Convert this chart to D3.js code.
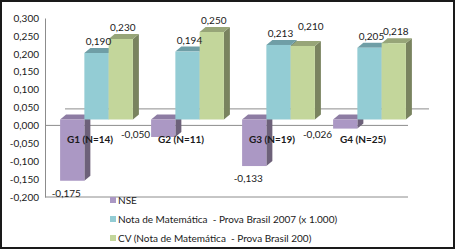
<!DOCTYPE html>
<html>
<head>
<meta charset="utf-8">
<script src="https://cdn.jsdelivr.net/npm/d3@7"></script>
<style>
  body { margin: 0; background: #fff; }
  text { font-family: Lato, "Open Sans", sans-serif; fill: #1a1a1a; }
</style>
</head>
<body>
<div id="chart"></div>
<script>
var groups = ["G1 (N=14)", "G2 (N=11)", "G3 (N=19)", "G4 (N=25)"];
var seriesNames = ["NSE",
    "Nota de Matemática  - Prova Brasil 2007 (x 1.000)",
    "CV (Nota de Matemática  - Prova Brasil 200)"];
var nse = [-0.175, -0.050, -0.133, -0.026];
var nota = [0.190, 0.194, 0.213, 0.205];
var cv = [0.230, 0.250, 0.210, 0.218];
var yTicks = [-0.2, -0.15, -0.1, -0.05, 0, 0.05, 0.1, 0.15, 0.2, 0.25, 0.3];

var series = [nse, nota, cv];
// front / top / side shades for the 3d columns
var faces = [
    ["#ab98c4", "#8d7ca3", "#6d6179"],
    ["#93ccd4", "#6f9ea6", "#5b858b"],
    ["#c3d69b", "#97a578", "#79835f"]
];

var W = 455, H = 249;
var depth = { dx: 6, dy: -5 };

var fmt = d3.formatLocale({ decimal: ",", thousands: ".", grouping: [3], currency: ["", ""], minus: "-" }).format(".3f");

var svg = d3.select("#chart").append("svg")
    .attr("width", W)
    .attr("height", H);

svg.append("rect")
    .attr("x", 1).attr("y", 1)
    .attr("width", W - 2).attr("height", H - 2)
    .attr("fill", "#fff")
    .attr("stroke", "#1a1a1a")
    .attr("stroke-width", 2);

// axis plane scale and the bar plane (columns sit a bit behind the axis)
var yScale = d3.scaleLinear().domain([-0.2, 0.3]).range([197, 18]);
var yBar = d3.scaleLinear().domain([-0.2, 0.3]).range([189.5, 14.5]);

var xScale = d3.scaleBand().domain(groups).range([51, 415])
    .paddingInner(0.2).paddingOuter(0.1);
var xSub = d3.scaleBand().domain(d3.range(series.length)).range([0, xScale.bandwidth()]);

var lineColor = "#8c8c8c";

// back edge of the zero plane
svg.append("line")
    .attr("x1", 65).attr("x2", 429)
    .attr("y1", yScale(0) - 16.5).attr("y2", yScale(0) - 16.5)
    .attr("stroke", lineColor).attr("stroke-width", 1);

// front zero line and floor
svg.append("line")
    .attr("x1", 45).attr("x2", 408)
    .attr("y1", yScale(0)).attr("y2", yScale(0))
    .attr("stroke", lineColor).attr("stroke-width", 1);
svg.append("line")
    .attr("x1", 45).attr("x2", 408)
    .attr("y1", yScale(-0.2)).attr("y2", yScale(-0.2))
    .attr("stroke", lineColor).attr("stroke-width", 1);

var yAxis = d3.axisLeft(yScale).tickValues(yTicks).tickSize(0).tickPadding(6).tickFormat(fmt);
var gy = svg.append("g")
    .attr("transform", "translate(45,0)")
    .call(yAxis);
gy.select(".domain").attr("stroke", lineColor);
gy.selectAll("text").style("font-size", "10px").attr("fill", "#1a1a1a");

// columns
groups.forEach(function (g, gi) {
    series.forEach(function (vals, si) {
        var v = vals[gi];
        var x0 = xScale(g) + xSub(si);
        var w = xSub.bandwidth();
        var yTop = yBar(Math.max(v, 0));
        var yBot = yBar(Math.min(v, 0));
        var c = faces[si];
        var bar = svg.append("g").attr("class", "bar");
        // side
        bar.append("path")
            .attr("d", "M" + (x0 + w) + "," + yTop +
                "L" + (x0 + w + depth.dx) + "," + (yTop + depth.dy) +
                "L" + (x0 + w + depth.dx) + "," + (yBot + depth.dy) +
                "L" + (x0 + w) + "," + yBot + "Z")
            .attr("fill", c[2]);
        // top
        bar.append("path")
            .attr("d", "M" + x0 + "," + yTop +
                "L" + (x0 + depth.dx) + "," + (yTop + depth.dy) +
                "L" + (x0 + w + depth.dx) + "," + (yTop + depth.dy) +
                "L" + (x0 + w) + "," + yTop + "Z")
            .attr("fill", c[1]);
        // front
        bar.append("rect")
            .attr("x", x0).attr("y", yTop)
            .attr("width", w).attr("height", yBot - yTop)
            .attr("fill", c[0]);
    });
});

// value labels
groups.forEach(function (g, gi) {
    var prevY = null;
    series.forEach(function (vals, si) {
        var v = vals[gi];
        var x0 = xScale(g) + xSub(si);
        var w = xSub.bandwidth();
        var cx = x0 + w / 2 + 2, ly, anchor = "middle";
        if (v >= 0) {
            ly = yBar(v) - 8;
            if (prevY !== null && Math.abs(ly - prevY) < 3) {
                ly = prevY - 6.5;
                cx += 6;
            }
            prevY = ly;
        } else if (v > -0.1) {
            cx = x0 - 1;
            anchor = "end";
            ly = yScale(0) + 13;
        } else {
            cx = x0 + w / 2 - 6;
            ly = yBar(v) + 16;
        }
        svg.append("text")
            .attr("x", cx).attr("y", ly)
            .attr("text-anchor", anchor)
            .style("font-size", "10px")
            .text(fmt(v));
    });
});

// category labels
svg.selectAll(".cat")
    .data(groups)
    .enter().append("text")
    .attr("class", "cat")
    .attr("x", function (d) { return xScale(d) + xScale.bandwidth() / 2 - 6.5; })
    .attr("y", yScale(0) + 17.5)
    .attr("text-anchor", "middle")
    .style("font-size", "10px")
    .style("font-weight", "bold")
    .text(function (d) { return d; });

// legend
var legend = svg.selectAll(".legend")
    .data(seriesNames)
    .enter().append("g")
    .attr("class", "legend")
    .attr("transform", function (d, i) { return "translate(110," + (199.5 + i * 19) + ")"; });

legend.append("rect")
    .attr("x", 0).attr("y", -2.5)
    .attr("width", 6).attr("height", 6)
    .attr("fill", function (d, i) { return faces[i][0]; });

legend.append("text")
    .attr("x", 8).attr("y", 4)
    .style("font-size", "10px")
    .style("white-space", "pre")
    .text(function (d) { return d; });
</script>
</body>
</html>
